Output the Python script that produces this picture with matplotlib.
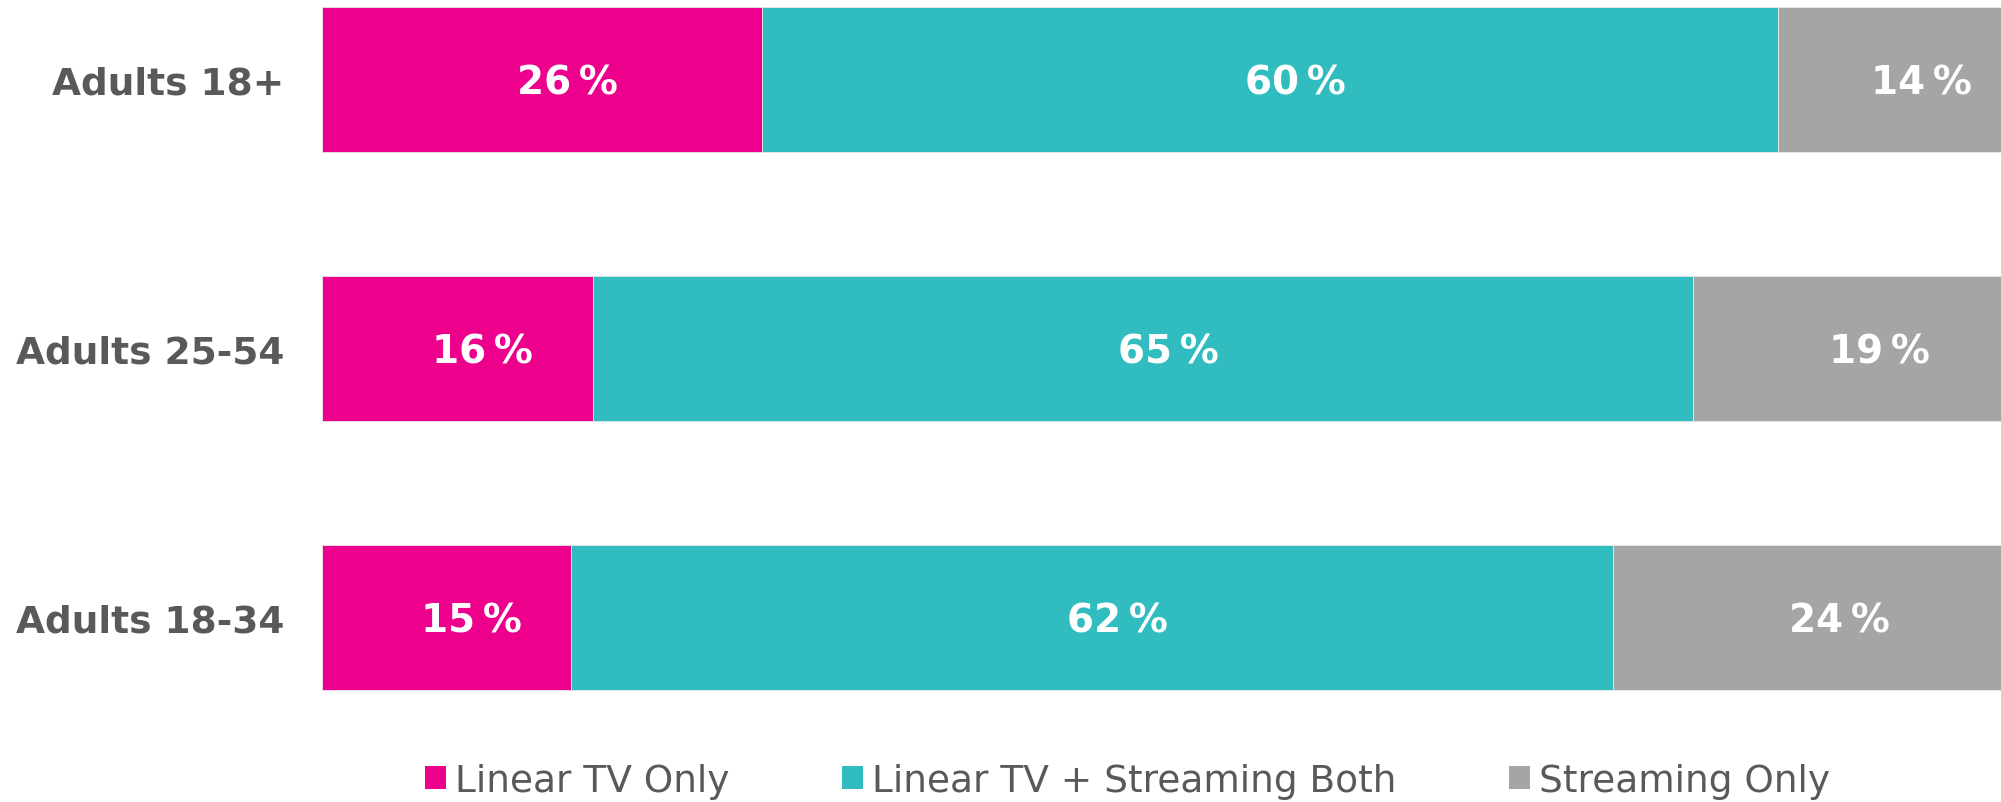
import numpy as np
import matplotlib.pyplot as plt
from matplotlib.patches import Patch

groups = ["Adults 18+", "Adults 25-54", "Adults 18-34"]
series = ["Linear TV Only", "Linear TV + Streaming Both", "Streaming Only"]
linear_only = [26, 16, 14.7]
both = [60, 65, 61.6]
streaming_only = [14, 19, 23.7]
colors = ["#EC008C", "#31BDC0", "#A5A5A5"]

fig = plt.figure(figsize=(20.01, 8.03), dpi=100)
ax = fig.add_axes([322 / 2001, 0.1034, 1 - 322 / 2001, 0.8966])

y = np.arange(len(groups))
left = np.zeros(len(groups))
for vals, col in zip([linear_only, both, streaming_only], colors):
    vals = np.array(vals, dtype=float)
    ax.barh(y, vals, left=left, height=0.54, color=col, edgecolor="#e8e8e8", linewidth=0.6)
    for yi, l, v in zip(y, left, vals):
        # label sits a touch right of and below the segment centre, as in the source
        ax.text(l + v / 2 + 1.5, yi + 0.012, f"{v:.0f}\u2009%", ha="center", va="center",
                color="white", fontsize=28, fontweight="bold")
    left += vals

ax.set_xlim(0, 99.2)
ax.set_ylim(2.377, -0.299)
ax.set_yticks(y)
ax.set_yticklabels(groups, fontsize=27, fontweight="bold", color="#595959")
ax.tick_params(axis="y", length=0, pad=27)
ax.set_xticks([])
for s in ax.spines.values():
    s.set_visible(False)

handles = [Patch(facecolor=c, edgecolor="none") for c in colors]
fig.legend(handles, series, loc="center", bbox_to_anchor=(0.5635, 1 - 782 / 803),
           ncol=3, frameon=False, fontsize=27, handlelength=0.55, handleheight=0.55,
           handletextpad=0.25, columnspacing=3.0, labelcolor="#595959")

fig.savefig("out.png", dpi=100)
